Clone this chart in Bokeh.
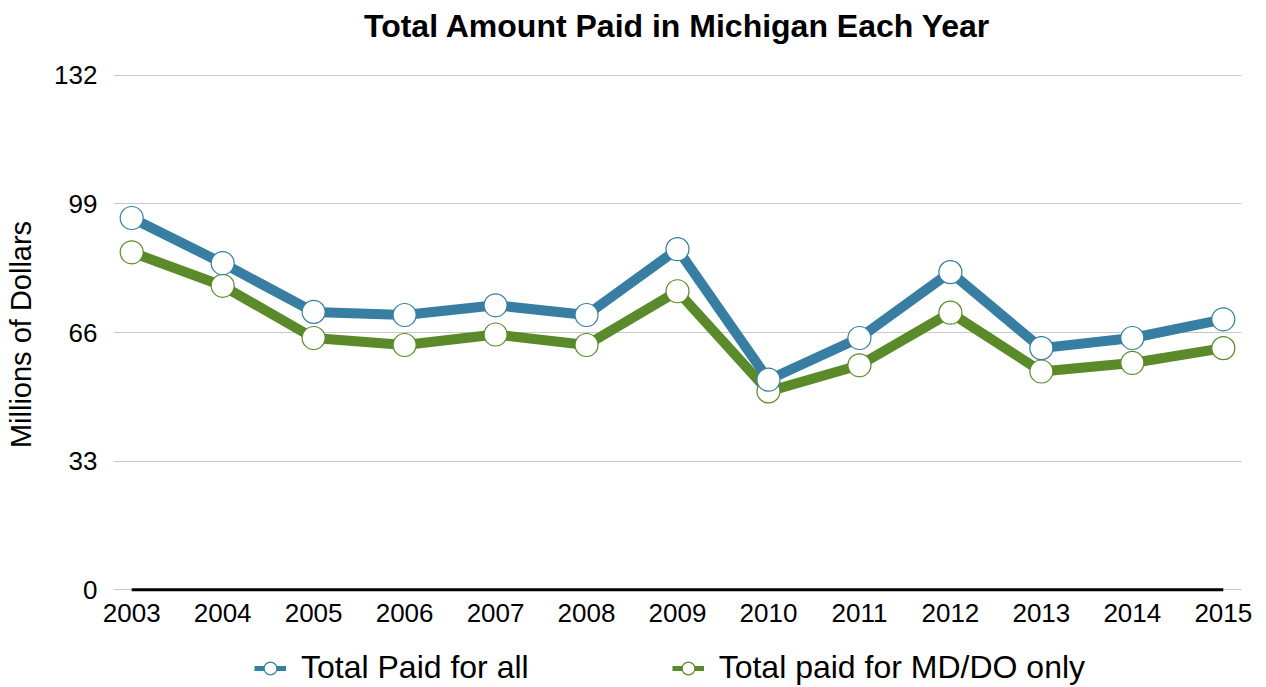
from bokeh.plotting import figure
from bokeh.layouts import column
from bokeh.models import Range1d, FixedTicker, Legend, LegendItem
from bokeh.embed import file_html
from bokeh.resources import INLINE

years = [2003, 2004, 2005, 2006, 2007, 2008, 2009, 2010, 2011, 2012, 2013, 2014, 2015]
total_all = [95.4, 83.8, 71.3, 70.5, 73.0, 70.5, 87.4, 53.9, 64.6, 81.5, 62.0, 64.6, 69.4]
total_md_do = [86.6, 78.0, 64.6, 62.8, 65.5, 62.8, 76.6, 50.9, 57.6, 71.1, 56.0, 58.2, 62.0]
y_ticks = [0, 33, 66, 99, 132]

title_text = "Total Amount Paid in Michigan Each Year"
y_label = "Millions of Dollars"
label_all = "Total Paid for all"
label_md = "Total paid for MD/DO only"

BLUE = "#377ea2"
GREEN = "#5a8a2a"
FONT = "Liberation Sans"
W = 1266
LEFT, RIGHT = 113, 25

# ---- title strip ----
tf = figure(width=W, height=59, output_backend="svg", toolbar_location=None,
            x_range=Range1d(0, 1), y_range=Range1d(0, 1),
            x_axis_type=None, y_axis_type=None,
            min_border_left=LEFT, min_border_right=RIGHT, min_border_top=0, min_border_bottom=0,
            title=title_text)
tf.outline_line_color = None
tf.grid.visible = False
tf.title.text_font = FONT
tf.title.text_font_size = "32px"
tf.title.text_font_style = "bold"
tf.title.text_color = "black"
tf.title.align = "center"
tf.title.standoff = 10

# ---- main chart ----
p = figure(
    frame_width=1128, frame_height=526,
    x_range=Range1d(years[0] - 0.2, years[-1] + 0.2),
    y_range=Range1d(-2, 133),
    output_backend="svg", toolbar_location=None,
    min_border_left=LEFT, min_border_right=RIGHT, min_border_top=12, min_border_bottom=40,
)
p.outline_line_color = None
p.background_fill_color = "white"
p.border_fill_color = "white"

p.xaxis.ticker = FixedTicker(ticks=years)
p.xaxis.axis_line_color = None
p.xaxis.major_tick_line_color = None
p.xaxis.minor_tick_line_color = None
p.xaxis.major_label_text_font = FONT
p.xaxis.major_label_text_font_size = "26px"
p.xaxis.major_label_text_color = "black"
p.xaxis.major_label_standoff = 0

p.yaxis.ticker = FixedTicker(ticks=y_ticks)
p.yaxis.axis_line_color = None
p.yaxis.major_tick_line_color = None
p.yaxis.minor_tick_line_color = None
p.yaxis.major_label_text_font = FONT
p.yaxis.major_label_text_font_size = "26px"
p.yaxis.major_label_text_color = "black"
p.yaxis.major_label_standoff = 10
p.yaxis.axis_label = y_label
p.yaxis.axis_label_text_font = FONT
p.yaxis.axis_label_text_font_size = "29px"
p.yaxis.axis_label_text_font_style = "normal"
p.yaxis.axis_label_text_color = "black"
p.yaxis.axis_label_standoff = 14

p.xgrid.grid_line_color = None
p.ygrid.ticker = FixedTicker(ticks=y_ticks)
p.ygrid.grid_line_color = "#c8c8c8"
p.ygrid.grid_line_width = 1

# baseline along the x axis
p.segment(x0=[years[0]], y0=[0], x1=[years[-1]], y1=[0], line_color="black", line_width=3)

p.line(years, total_md_do, line_color=GREEN, line_width=10)
p.scatter(years, total_md_do, size=23, fill_color="white", line_color=GREEN, line_width=1.2)
p.line(years, total_all, line_color=BLUE, line_width=10)
p.scatter(years, total_all, size=23, fill_color="white", line_color=BLUE, line_width=1.2)

# ---- legend strip (series re-drawn off-view so only legend swatches show) ----
lf = figure(width=W, height=50, output_backend="svg", toolbar_location=None,
            x_range=Range1d(0, 1), y_range=Range1d(0, 1),
            x_axis_type=None, y_axis_type=None,
            min_border_left=LEFT, min_border_right=RIGHT, min_border_top=0, min_border_bottom=0)
lf.outline_line_color = None
lf.grid.visible = False
lb_line = lf.line(years, total_all, line_color=BLUE, line_width=5)
lb_pts = lf.scatter(years, total_all, fill_color="white", line_color=BLUE, line_width=1.2)
lg_line = lf.line(years, total_md_do, line_color=GREEN, line_width=5)
lg_pts = lf.scatter(years, total_md_do, fill_color="white", line_color=GREEN, line_width=1.2)

legend = Legend(
    items=[LegendItem(label=label_all, renderers=[lb_line, lb_pts]),
           LegendItem(label=label_md, renderers=[lg_line, lg_pts])],
    orientation="horizontal", location=(254 - LEFT, 1),
    label_text_font=FONT, label_text_font_size="32px", label_text_color="black",
    glyph_width=32, glyph_height=34, label_standoff=15, spacing=143,
    padding=0, margin=0, border_line_color=None, background_fill_alpha=0,
)
lf.add_layout(legend, "center")

layout = column(tf, p, lf, spacing=0)
open("out.html", "w").write(file_html(layout, INLINE))
